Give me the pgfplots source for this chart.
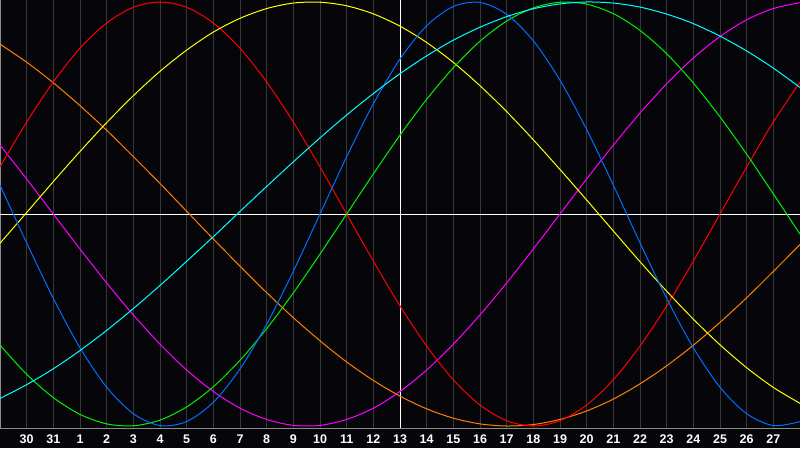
\documentclass[border=0pt]{standalone}
\usepackage{fontspec}
\setmainfont{Liberation Sans}
\usepackage{pgfplots}
\usepackage{pgfplotstable}
\pgfplotsset{compat=1.18}

\definecolor{bg}{RGB}{6,6,10}
\definecolor{gridgray}{RGB}{55,55,58}
\definecolor{framegray}{RGB}{140,140,140}
\definecolor{cblue}{RGB}{0,110,255}
\definecolor{cred}{RGB}{255,0,0}
\definecolor{cgreen}{RGB}{0,240,0}
\definecolor{cmag}{RGB}{255,0,255}
\definecolor{cyel}{RGB}{255,255,0}
\definecolor{cora}{RGB}{255,128,0}
\definecolor{ccyan}{RGB}{0,255,255}

% day offset from today (13) and the seven cycles
\pgfplotstableread{
t   blue   red    green  mag    yel    ora    cyan
-15  0.136  0.222 -0.618  0.325 -0.138  0.801 -0.870
-14 -0.136  0.434 -0.756  0.165  0.007  0.716 -0.805
-13 -0.398  0.623 -0.866  0.000  0.153  0.619 -0.730
-12 -0.631  0.782 -0.945 -0.165  0.295  0.511 -0.644
-11 -0.817  0.901 -0.990 -0.325  0.431  0.395 -0.549
-10 -0.942  0.975 -0.999 -0.476  0.558  0.271 -0.446
-9  -0.998  1.000 -0.972 -0.614  0.673  0.144 -0.337
-8  -0.979  0.975 -0.910 -0.736  0.773  0.013 -0.223
-7  -0.888  0.901 -0.815 -0.837  0.858 -0.118 -0.107
-6  -0.731  0.782 -0.690 -0.916  0.923 -0.246  0.012
-5  -0.520  0.623 -0.541 -0.969  0.969 -0.371  0.130
-4  -0.270  0.434 -0.372 -0.997  0.995 -0.489  0.246
-3   0.000  0.222 -0.189 -0.997  0.999 -0.598  0.359
-2   0.270  0.000  0.000 -0.969  0.982 -0.698  0.467
-1   0.520 -0.222  0.189 -0.916  0.944 -0.785  0.568
0    0.731 -0.434  0.372 -0.837  0.886 -0.859  0.662
1    0.888 -0.623  0.541 -0.736  0.809 -0.919  0.746
2    0.979 -0.782  0.690 -0.614  0.715 -0.963  0.820
3    0.998 -0.901  0.815 -0.476  0.605 -0.990  0.881
4    0.942 -0.975  0.910 -0.325  0.483 -1.000  0.931
5    0.817 -1.000  0.972 -0.165  0.350 -0.993  0.968
6    0.631 -0.975  0.999  0.000  0.210 -0.969  0.991
7    0.398 -0.901  0.990  0.165  0.066 -0.929  1.000
8    0.136 -0.782  0.945  0.325 -0.080 -0.873  0.995
9   -0.136 -0.623  0.866  0.476 -0.225 -0.801  0.976
10  -0.398 -0.434  0.756  0.614 -0.364 -0.716  0.943
11  -0.631 -0.222  0.618  0.736 -0.496 -0.619  0.898
12  -0.817  0.000  0.458  0.837 -0.617 -0.511  0.839
13  -0.942  0.222  0.282  0.916 -0.725 -0.395  0.769
14  -0.998  0.434  0.095  0.969 -0.818 -0.271  0.688
15  -0.979  0.623 -0.095  0.997 -0.893 -0.144  0.597
}\cycles

\begin{document}
\begin{tikzpicture}
\fill[bg] (0pt,-20pt) rectangle (800pt,428pt);
\begin{axis}[
    at={(0pt,0pt)}, anchor=south west,
    scale only axis,
    width=800pt, height=428pt,
    xmin=-15, xmax=15,
    ymin=-1.0094, ymax=1.0094,
    axis background/.style={fill=bg},
    axis line style={draw=framegray, line width=1pt},
    xtick={-14,...,14},
    xticklabels={30,31,1,2,3,4,5,6,7,8,9,10,11,12,13,14,15,16,17,18,19,20,21,22,23,24,25,26,27},
    ytick=\empty,
    major tick length=0pt,
    xmajorgrids,
    grid style={draw=gridgray, line width=1pt},
    xticklabel style={font=\bfseries\fontsize{12.5}{12.5}\selectfont, text=white,
        anchor=base, yshift=-15pt},
    every axis plot/.append style={line width=1pt, smooth},
]
\draw[white, line width=1pt] (axis cs:-15,0) -- (axis cs:15,0);
\draw[white, line width=1pt] (axis cs:0,-1.0094) -- (axis cs:0,1.0094);
\addplot[cora]  table[x=t, y=ora]   {\cycles};
\addplot[cmag]  table[x=t, y=mag]   {\cycles};
\addplot[cred]  table[x=t, y=red]   {\cycles};
\addplot[cyel]  table[x=t, y=yel]   {\cycles};
\addplot[cgreen] table[x=t, y=green] {\cycles};
\addplot[cblue] table[x=t, y=blue]  {\cycles};
\addplot[ccyan] table[x=t, y=cyan]  {\cycles};
\end{axis}
\pgfresetboundingbox
\path[use as bounding box] (0pt,-20pt) rectangle (800pt,428pt);
\end{tikzpicture}
\end{document}
